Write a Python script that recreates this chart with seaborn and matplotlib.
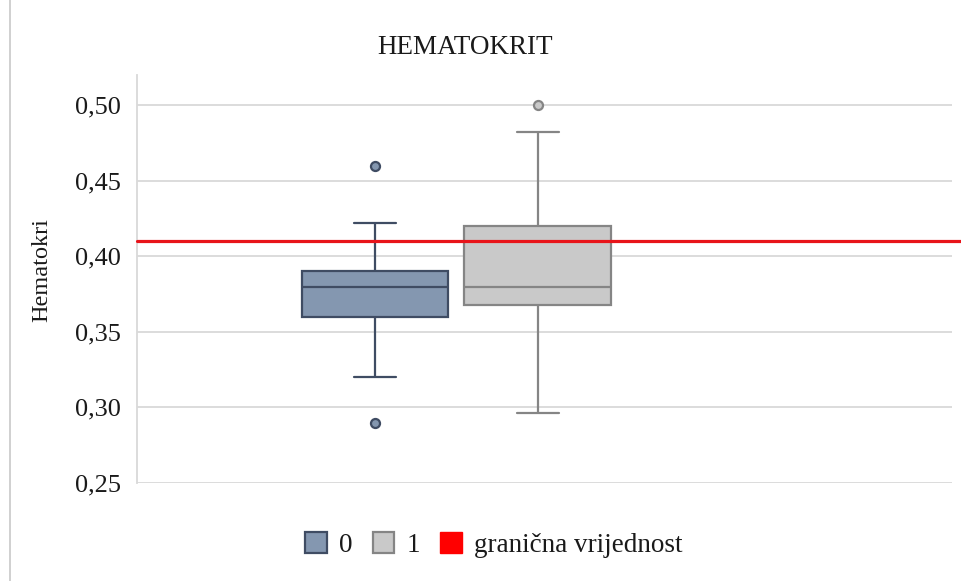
import numpy as np
import pandas as pd
import matplotlib
matplotlib.use("Agg")
import matplotlib.pyplot as plt
import seaborn as sns
from matplotlib.patches import Patch
from matplotlib.lines import Line2D

# hematokrit values per group (quartiles, whiskers and outliers)
grupa_0 = [0.29, 0.32, 0.36, 0.37, 0.38, 0.385, 0.39, 0.422, 0.46]
grupa_1 = [0.296, 0.35, 0.368, 0.375, 0.38, 0.40, 0.42, 0.482, 0.50]
grupe = ["0", "1"]
granicna = 0.41
y_ticks = [0.25, 0.30, 0.35, 0.40, 0.45, 0.50]
y_labels = ["0,25", "0,30", "0,35", "0,40", "0,45", "0,50"]

fill_colors = {"0": "#8497b0", "1": "#c9c9c9"}
edge_colors = {"0": "#3f4c63", "1": "#858585"}

df = pd.DataFrame({
    "x": [""] * (len(grupa_0) + len(grupa_1)),
    "grupa": ["0"] * len(grupa_0) + ["1"] * len(grupa_1),
    "hematokrit": grupa_0 + grupa_1,
})

sns.set_theme(style="white")
plt.rcParams["font.family"] = ["Liberation Serif", "DejaVu Serif"]
plt.rcParams["text.color"] = "#1a1a1a"

fig = plt.figure(figsize=(9.61, 5.81), dpi=100)
ax = fig.add_axes([137 / 961, 1 - 483 / 581, (952 - 137) / 961, (483 - 75) / 581])

for g in grupe:
    sns.boxplot(
        data=df[df["grupa"] == g], x="x", y="hematokrit", hue="grupa",
        hue_order=grupe, palette=fill_colors, linecolor=edge_colors[g],
        width=0.8, gap=0.1, dodge=True, linewidth=1.6, legend=False,
        saturation=1, ax=ax,
        flierprops=dict(marker="o", markersize=6.5, markerfacecolor=fill_colors[g],
                        markeredgecolor=edge_colors[g], markeredgewidth=1.6),
    )

# shorter whisker caps, like the original: caps are the horizontal segments
# narrower than the median line (seaborn draws them in box-local units)
horiz = []
for ln in ax.lines:
    xs, ys = np.asarray(ln.get_xdata(), float), np.asarray(ln.get_ydata(), float)
    if len(xs) == 2 and ys[0] == ys[1]:
        horiz.append((ln, xs))
full = max(abs(xs[1] - xs[0]) for _, xs in horiz)
for ln, xs in horiz:
    if abs(xs[1] - xs[0]) < 0.75 * full:
        c = xs.mean()
        ln.set_xdata([c - 0.144 * full, c + 0.144 * full])

# red threshold line reaching out to the right edge of the image
ax.axhline(granicna, xmin=0, xmax=(961 - 137) / (952 - 137), color="#e8141a",
           linewidth=2.3, clip_on=False, zorder=5)

ax.set_xlim(-0.786, 1.22)
ax.set_ylim(0.25, 0.52)
ax.set_yticks(y_ticks)
ax.set_yticklabels(y_labels, fontsize=19)
ax.set_xticks([])
ax.set_xlabel("")
ax.set_ylabel("Hematokri", fontsize=17.5, color="#1a1a1a")
ax.yaxis.set_label_coords(-0.104, 0.522)
ax.yaxis.grid(True, color="#d9d9d9", linewidth=1.3)
ax.set_axisbelow(True)
ax.tick_params(axis="y", length=0, pad=11.5, colors="#1a1a1a")
for side in ["top", "right", "bottom"]:
    ax.spines[side].set_visible(False)
ax.spines["left"].set_color("#d9d9d9")
ax.spines["left"].set_linewidth(1.3)

fig.text(465 / 961, 1 - 47 / 581, "HEMATOKRIT", ha="center", va="center", fontsize=19.5)

# thin frame line on the left side of the picture
fig.add_artist(Line2D([10 / 961, 10 / 961], [0, 1], color="#c8c8c8", linewidth=1.2,
                      transform=fig.transFigure))

handles = [
    Patch(facecolor=fill_colors["0"], edgecolor=edge_colors["0"], linewidth=1.6, label="0"),
    Patch(facecolor=fill_colors["1"], edgecolor=edge_colors["1"], linewidth=1.6, label="1"),
    Patch(facecolor="#ff0000", edgecolor="#ff0000", label="granična vrijednost"),
]
fig.legend(handles=handles, loc="center", bbox_to_anchor=(494 / 961, 1 - 545 / 581),
           ncol=3, frameon=False, fontsize=19.5, handlelength=0.8, handleheight=0.8,
           handletextpad=0.45, columnspacing=0.75)

fig.savefig("out.png", dpi=100, facecolor="white")
